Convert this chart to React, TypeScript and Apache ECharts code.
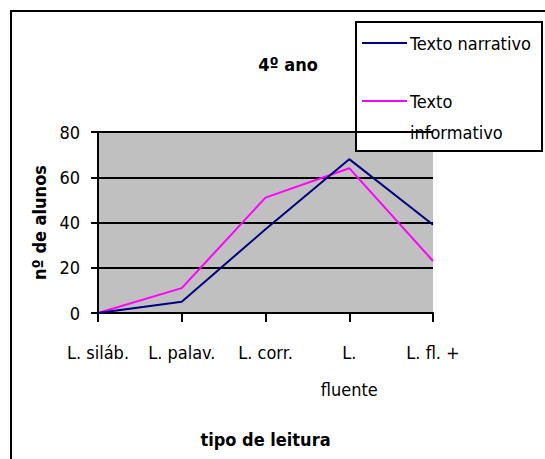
import React, { useEffect, useRef } from "react";
import * as echarts from "echarts";

const categories = ["L. siláb.", "L. palav.", "L. corr.", "L.\nfluente", "L. fl. +"];
const narrativo = [0, 5, 37, 68, 39];
const informativo = [0, 11, 51, 64, 23];
const yTicks = [0, 20, 40, 60, 80];
const seriesNames = ["Texto narrativo", "Texto informativo"];
const legendLabels = ["Texto narrativo", "Texto\ninformativo"];
const colors = ["#000080", "#FF00FF"];

const FONT = "'DejaVu Sans Condensed', 'Liberation Sans Narrow', 'Arial Narrow', sans-serif";

export default function App() {
  const ref = useRef<HTMLDivElement>(null);
  useEffect(() => {
    if (!ref.current) return;
    const chart = echarts.init(ref.current, undefined, { renderer: "svg" });
    chart.setOption({
      animation: false,
      backgroundColor: "#ffffff",
      title: {
        text: "4º ano",
        left: 283,
        top: 50,
        textAlign: "center",
        textStyle: { fontFamily: FONT, fontSize: 18, fontWeight: "bold", color: "#000" },
      },
      grid: { left: 98, right: 112, top: 132, bottom: 146, show: true, backgroundColor: "#C0C0C0", borderWidth: 0 },
      xAxis: {
        type: "category",
        data: categories,
        boundaryGap: false,
        name: "tipo de leitura",
        nameLocation: "middle",
        nameGap: 117,
        nameTextStyle: { fontFamily: FONT, fontSize: 18, fontWeight: "bold", color: "#000" },
        axisLine: { lineStyle: { color: "#000", width: 2 } },
        axisTick: { show: true, length: 9, alignWithLabel: true, interval: 0, lineStyle: { color: "#000", width: 2 } },
        axisLabel: { fontFamily: FONT, fontSize: 18, color: "#000", interval: 0, margin: 30, lineHeight: 37, verticalAlign: "top", padding: [-9, 0, 0, 0] },
        splitLine: { show: false },
      },
      yAxis: {
        type: "value",
        min: 0,
        max: 80,
        interval: 20,
        name: "nº de alunos",
        nameLocation: "middle",
        nameGap: 50,
        nameTextStyle: { fontFamily: FONT, fontSize: 18, fontWeight: "bold", color: "#000" },
        axisLine: { show: true, lineStyle: { color: "#000", width: 2 } },
        axisTick: { show: true, length: 7, lineStyle: { color: "#000", width: 2 } },
        axisLabel: {
          fontFamily: FONT,
          fontSize: 18,
          color: "#000",
          margin: 18,
          formatter: (v: number) => (yTicks.includes(v) ? String(v) : ""),
        },
        splitLine: { show: true, lineStyle: { color: "#000", width: 2 } },
      },
      series: [
        {
          name: seriesNames[0],
          type: "line",
          data: narrativo,
          symbol: "none",
          lineStyle: { color: colors[0], width: 2 },
          itemStyle: { color: colors[0] },
          z: 3,
        },
        {
          name: seriesNames[1],
          type: "line",
          data: informativo,
          symbol: "none",
          lineStyle: { color: colors[1], width: 2 },
          itemStyle: { color: colors[1] },
          z: 2,
        },
      ],
      graphic: [
        {
          type: "rect",
          shape: { x: 11, y: 11, width: 700, height: 700 },
          style: { fill: "none", stroke: "#000", lineWidth: 2 },
          silent: true,
          z: 0,
        },
        {
          type: "group",
          x: 356,
          y: 22,
          z: 100,
          children: [
            {
              type: "rect",
              shape: { x: 0, y: 0, width: 186, height: 129 },
              style: { fill: "#fff", stroke: "#000", lineWidth: 2 },
            },
            {
              type: "line",
              shape: { x1: 6, y1: 21, x2: 51, y2: 21 },
              style: { stroke: colors[0], lineWidth: 2 },
            },
            {
              type: "text",
              x: 54,
              y: 21,
              style: { text: legendLabels[0], font: `18px ${FONT}`, fill: "#000", verticalAlign: "middle", align: "left" },
            },
            {
              type: "line",
              shape: { x1: 6, y1: 79, x2: 51, y2: 79 },
              style: { stroke: colors[1], lineWidth: 2 },
            },
            {
              type: "text",
              x: 54,
              y: 64,
              style: { text: legendLabels[1], font: `18px ${FONT}`, lineHeight: 31, fill: "#000", verticalAlign: "top", align: "left" },
            },
          ],
        },
      ],
    });
    return () => chart.dispose();
  }, []);
  return <div ref={ref} style={{ position: "fixed", left: 0, top: 0, width: 545, height: 459 }} />;
}
